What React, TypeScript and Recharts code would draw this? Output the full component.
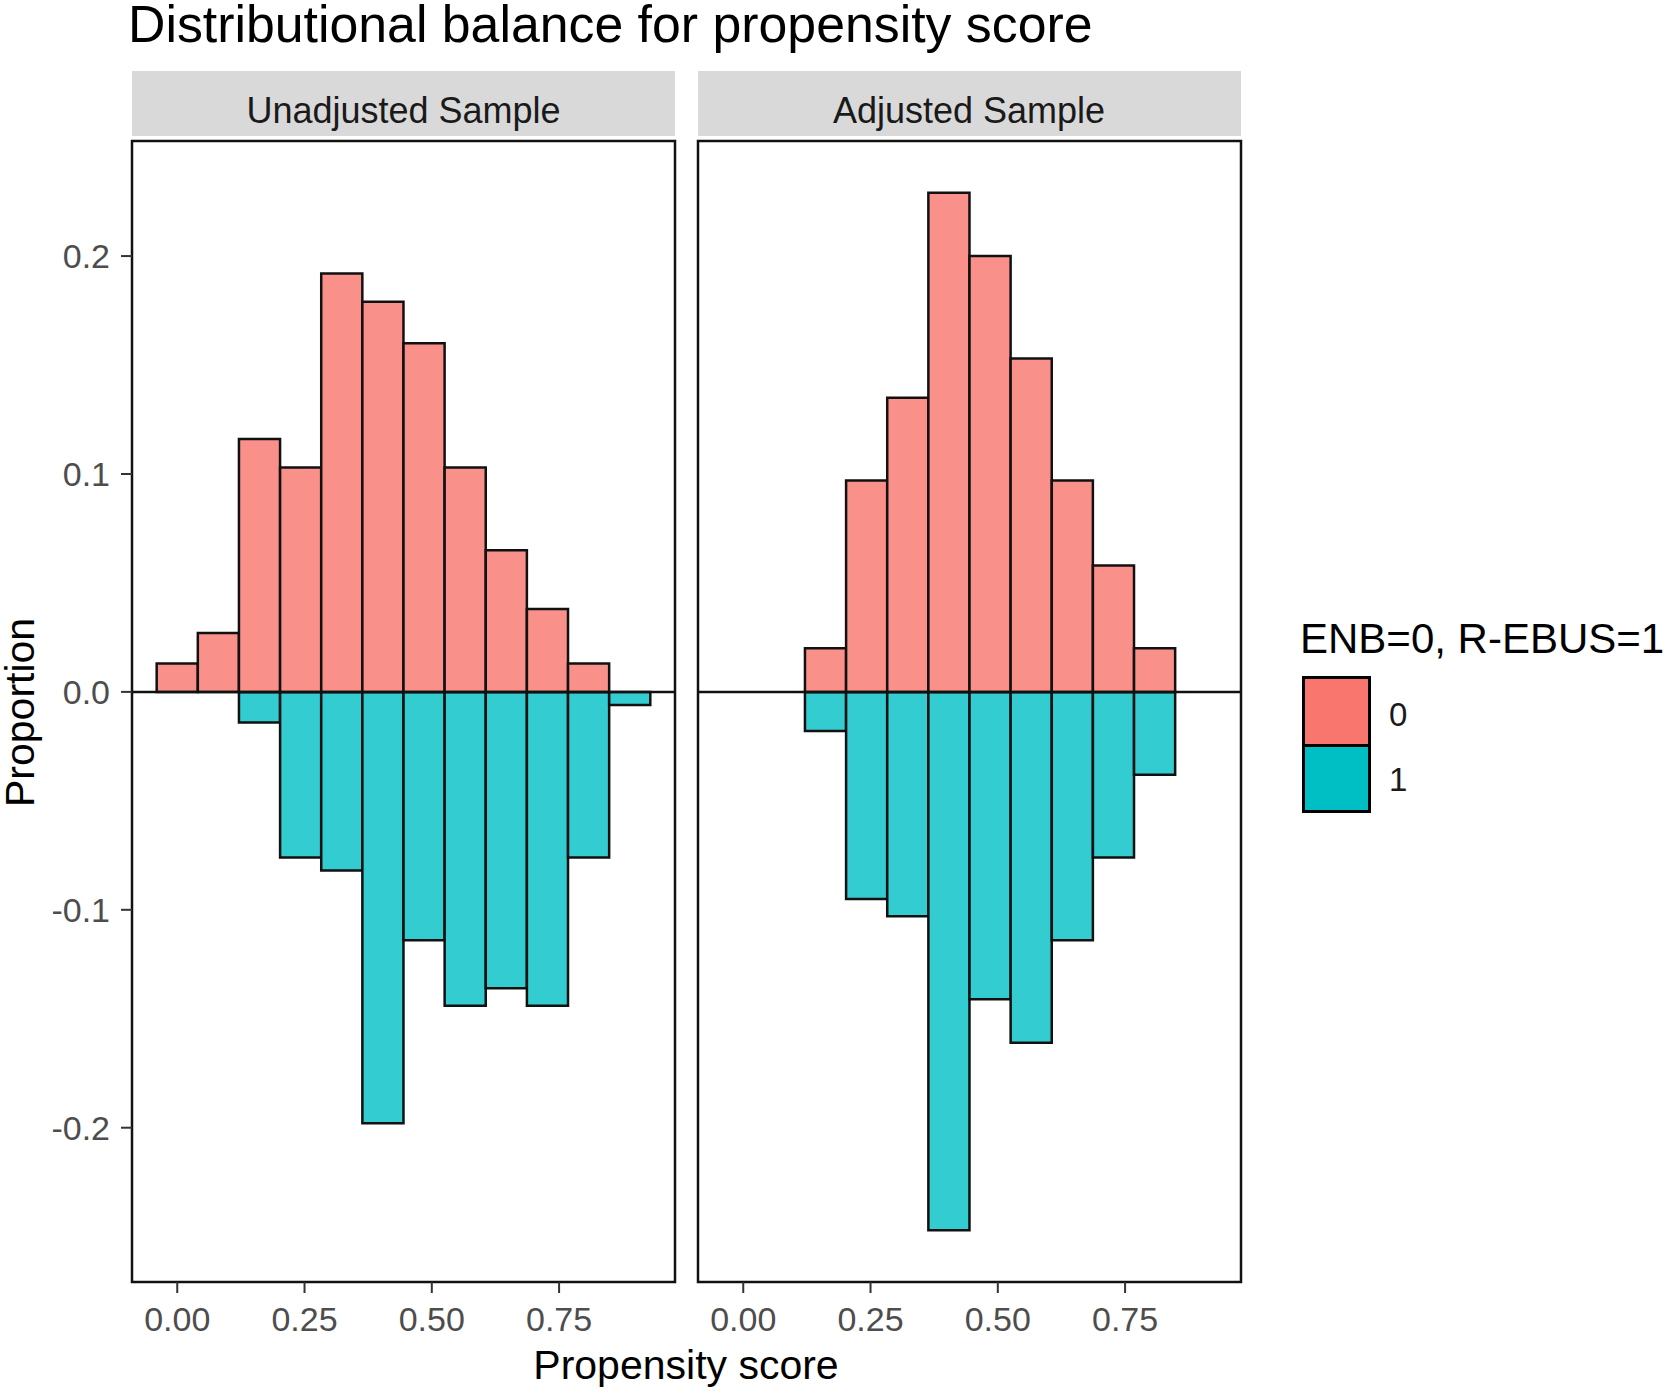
import { Bar, BarChart, ReferenceArea, ReferenceLine, XAxis, YAxis } from 'recharts';

// histogram bins (bin centres of propensity score, equal width bins)
const binCenters = [0.0, 0.0808, 0.1616, 0.2424, 0.3232, 0.404, 0.4848, 0.5656, 0.6464, 0.7272, 0.808, 0.8888];
const binWidth = 0.0808;

// proportions, ENB=0 drawn upwards, R-EBUS=1 drawn downwards
const unadjustedEnb = [0.013, 0.027, 0.116, 0.103, 0.192, 0.179, 0.16, 0.103, 0.065, 0.038, 0.013, 0];
const unadjustedRebus = [0, 0, -0.014, -0.076, -0.082, -0.198, -0.114, -0.144, -0.136, -0.144, -0.076, -0.006];
const adjustedEnb = [0, 0, 0.02, 0.097, 0.135, 0.229, 0.2, 0.153, 0.097, 0.058, 0.02, 0];
const adjustedRebus = [0, 0, -0.018, -0.095, -0.103, -0.247, -0.141, -0.161, -0.114, -0.076, -0.038, 0];

const xTicks = [0, 0.25, 0.5, 0.75];
const yTicks = [-0.2, -0.1, 0, 0.1, 0.2];
const panelTitles = ['Unadjusted Sample', 'Adjusted Sample'];
const legendTitle = 'ENB=0, R-EBUS=1';
const legendLabels = ['0', '1'];

const FILL_0 = '#F8766D';
const FILL_1 = '#00BFC4';
const BAR_0 = '#F9918A';
const BAR_1 = '#33CCD0';
const FONT = '"Liberation Sans", Arial, sans-serif';

// ggplot style 5% expansion
const allValues = [...unadjustedEnb, ...unadjustedRebus, ...adjustedEnb, ...adjustedRebus];
const yMin = Math.min(...allValues);
const yMax = Math.max(...allValues);
const Y_DOMAIN: [number, number] = [yMin - 0.05 * (yMax - yMin), yMax + 0.05 * (yMax - yMin)];
const xLo = binCenters[0] - binWidth / 2;
const xHi = binCenters[binCenters.length - 1] + binWidth / 2;
const X_DOMAIN: [number, number] = [xLo - 0.05 * (xHi - xLo), xHi + 0.05 * (xHi - xLo)];

const PLOT_W = 543;
const PLOT_H = 1141;
// a hair under the band size so recharts doesn't shrink the bars
const BAR_PX = (binWidth * PLOT_W) / (X_DOMAIN[1] - X_DOMAIN[0]) - 0.03;

const buildRows = (enb: number[], rebus: number[]) =>
  binCenters.map((b, i) => ({ bin: b, enb: enb[i], rebus: rebus[i] }));

function Panel({ rows, showY }: { rows: { bin: number; enb: number; rebus: number }[]; showY: boolean }) {
  const yw = showY ? 132 : 0;
  return (
    <BarChart
      width={yw + PLOT_W + (showY ? 3 : 6)}
      height={3 + PLOT_H + 60}
      data={rows}
      margin={{ top: 3, right: 3, bottom: 0, left: showY ? 0 : 3 }}
      barCategoryGap={0}
      barGap={0}
      stackOffset="sign"
    >
      <XAxis
        dataKey="bin"
        type="number"
        domain={X_DOMAIN}
        allowDataOverflow
        ticks={xTicks}
        interval={0}
        tickFormatter={(v: number) => v.toFixed(2)}
        height={60}
        axisLine={false}
        tickSize={11}
        tickMargin={14}
        tickLine={{ stroke: '#333333', strokeWidth: 2 }}
        tick={{ fill: '#4D4D4D', fontSize: 34, fontFamily: FONT }}
      />
      <YAxis
        type="number"
        domain={Y_DOMAIN}
        allowDataOverflow
        ticks={yTicks}
        interval={0}
        hide={!showY}
        width={yw}
        tickFormatter={(v: number) => v.toFixed(1)}
        axisLine={false}
        tickSize={11}
        tickMargin={11}
        tickLine={{ stroke: '#333333', strokeWidth: 2 }}
        tick={{ fill: '#4D4D4D', fontSize: 34, fontFamily: FONT }}
      />
      <Bar dataKey="rebus" stackId="s" barSize={BAR_PX} fill={BAR_1} stroke="#111" strokeWidth={2.5} isAnimationActive={false} />
      <Bar dataKey="enb" stackId="s" barSize={BAR_PX} fill={BAR_0} stroke="#111" strokeWidth={2.5} isAnimationActive={false} />
      <ReferenceLine y={0} stroke="#111" strokeWidth={2.5} ifOverflow="visible" />
      <ReferenceArea
        x1={X_DOMAIN[0]}
        x2={X_DOMAIN[1]}
        y1={Y_DOMAIN[0]}
        y2={Y_DOMAIN[1]}
        fill="none"
        fillOpacity={0}
        stroke="#111"
        strokeWidth={2.5}
        ifOverflow="visible"
      />
    </BarChart>
  );
}

export default function App() {
  const stripLefts = [132, 697.5];
  return (
    <div style={{ position: 'absolute', left: 0, top: 0, width: 1667, height: 1393, background: '#fff', fontFamily: FONT, overflow: 'hidden' }}>
      <div style={{ position: 'absolute', left: 128, top: 0, fontSize: 51.8, lineHeight: '48px', color: '#000', whiteSpace: 'nowrap' }}>
        Distributional balance for propensity score
      </div>

      {panelTitles.map((t, i) => (
        <div key={t} style={{ position: 'absolute', left: stripLefts[i], top: 71, width: PLOT_W, height: 65, background: '#D9D9D9' }}>
          <div style={{ position: 'absolute', left: 0, right: 0, top: 22, textAlign: 'center', fontSize: 36, lineHeight: '36px', color: '#1A1A1A', whiteSpace: 'nowrap' }}>
            {t}
          </div>
        </div>
      ))}

      <div style={{ position: 'absolute', left: 0, top: 138 }}>
        <Panel rows={buildRows(unadjustedEnb, unadjustedRebus)} showY />
      </div>
      <div style={{ position: 'absolute', left: 694.5, top: 138 }}>
        <Panel rows={buildRows(adjustedEnb, adjustedRebus)} showY={false} />
      </div>

      <div style={{ position: 'absolute', left: 486, top: 1345, width: 400, textAlign: 'center', fontSize: 41, lineHeight: '41px', color: '#000', whiteSpace: 'nowrap' }}>
        Propensity score
      </div>
      <div
        style={{
          position: 'absolute',
          left: 0,
          top: 711.5 - 110,
          width: 41,
          height: 220,
          textAlign: 'center',
          fontSize: 41,
          lineHeight: '41px',
          color: '#000',
          writingMode: 'vertical-rl',
          transform: 'rotate(180deg)',
          whiteSpace: 'nowrap',
        }}
      >
        Proportion
      </div>

      {/* legend */}
      <div style={{ position: 'absolute', left: 1300, top: 618, fontSize: 42, lineHeight: '41px', color: '#000', whiteSpace: 'nowrap' }}>
        {legendTitle}
      </div>
      <div style={{ position: 'absolute', left: 1302, top: 676, width: 69, border: '3px solid #000', boxSizing: 'border-box' }}>
        <div style={{ height: 64.5, background: FILL_0, borderBottom: '3px solid #000' }} />
        <div style={{ height: 63, background: FILL_1 }} />
      </div>
      {legendLabels.map((l, i) => (
        <div key={l} style={{ position: 'absolute', left: 1389, top: (i === 0 ? 715 : 780) - 17, fontSize: 33, lineHeight: '34px', color: '#1A1A1A' }}>
          {l}
        </div>
      ))}
    </div>
  );
}
